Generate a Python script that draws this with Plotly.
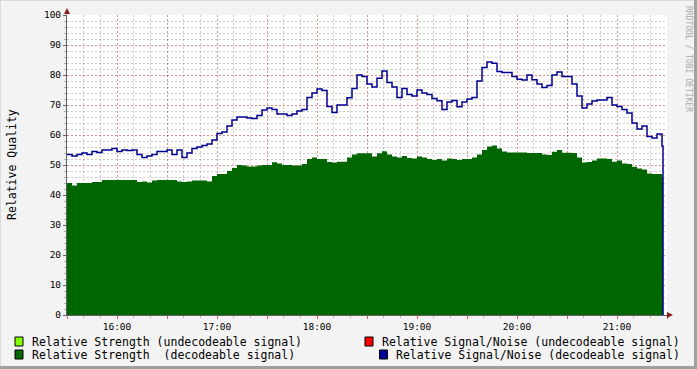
import pandas as pd
import plotly.graph_objects as go

# ---- data (3-minute steps starting 15:30) ----
start_time = "2024-01-01 15:30:00"
step_minutes = 3

strength_decodeable = [
    44, 43.2, 44, 44, 44, 44.3, 44.3, 45, 45, 45,
    45, 45, 45, 45, 44.3, 44.5, 44.2, 44.8, 45, 45,
    45, 45, 44.5, 44.3, 44.5, 44.8, 44.8, 44.8, 44.5, 46.3,
    47, 47, 48, 49, 50, 49.8, 49.5, 49.5, 49.8, 50,
    50, 50.9, 50.5, 50, 50, 49.8, 49.8, 50.3, 52, 52.5,
    52, 52, 51, 50.8, 51.1, 51.1, 52.5, 53.5, 53.9, 53.9,
    53.9, 52.8, 53.9, 54.6, 53.5, 52.8, 52.5, 53, 52.3, 52.2,
    52.8, 52.5, 52, 51.7, 52, 51.5, 52.2, 52, 51.7, 52,
    52, 52.5, 53.5, 55, 56.2, 56.5, 55.5, 54.5, 54.2, 54.2,
    54.2, 54.2, 54, 54, 54, 53.5, 53.3, 54.4, 55, 54.1,
    54.1, 54, 52.5, 50.8, 51, 51.5, 52.2, 52.2, 52, 51.1,
    51.5, 50.5, 50.3, 49.4, 48.8, 48.5, 47.2, 47, 47, 46,
]

snr_decodeable = [
    53.5, 53, 53.5, 54, 53.5, 54.5, 54.2, 55, 55, 55.5,
    54.5, 55, 54.8, 55, 53.5, 52.5, 53, 53.5, 54.5, 54.5,
    55, 53.5, 55, 52.5, 54, 55.5, 56, 56.5, 57, 58.3,
    60.5, 61, 63, 65, 66, 66, 65.7, 65.5, 66.5, 68.3,
    69, 68.5, 67, 67, 66.5, 67, 68, 68.5, 72.5, 74,
    75.3, 74.8, 69.5, 67.5, 70, 70, 72.4, 75.5, 80, 79.5,
    77, 76, 78.9, 81.3, 77.5, 76, 72.5, 75.5, 73.5, 73,
    75, 74, 73.5, 72.2, 71.4, 68.5, 71, 71.5, 69.4, 71,
    72, 72.5, 78, 82.5, 84.3, 83.9, 81.2, 80.8, 80.8, 79.5,
    78.6, 78.3, 80, 78.4, 77, 75.8, 76.5, 80, 81, 79.5,
    79.5, 77, 73, 69, 70.3, 71.3, 71.7, 71.7, 72.5, 70,
    69.5, 68.5, 67.3, 64, 62, 63, 59.5, 59, 60.3, 56.3,
]

end_time = "2024-01-01 21:27:36"

x_range = ["2024-01-01 15:30:00", "2024-01-01 21:30:00"]
y_range = [0, 100]

tick_vals = ["2024-01-01 %s" % t for t in
             ["15:30", "16:00", "16:30", "17:00", "17:30", "18:00", "18:30",
              "19:00", "19:30", "20:00", "20:30", "21:00", "21:30"]]
tick_text = ["", "16:00", "", "17:00", "", "18:00", "",
             "19:00", "", "20:00", "", "21:00", ""]
y_tick_vals = [0, 10, 20, 30, 40, 50, 60, 70, 80, 90, 100]

legend_labels = [
    "Relative Strength (undecodeable signal)",
    "Relative Signal/Noise (undecodeable signal)",
    "Relative Strength\u00a0\u00a0(decodeable signal)",
    "Relative Signal/Noise (decodeable signal)",
]
legend_colors = ["#80FF00", "#FF0000", "#006600", "#000099"]

# ---- figure ----
times = list(pd.date_range(start_time, periods=len(snr_decodeable),
                           freq="%dmin" % step_minutes))
times_ext = times + [pd.Timestamp(end_time)]

W, H = 697, 369
L, R, T, B = 67, 667, 15, 315
FONT = "DejaVu Sans Mono"


def px(xp):
    return (xp - L) / (R - L)


def py(yp):
    return (B - yp) / (B - T)


fig = go.Figure()
fig.add_trace(go.Scatter(
    x=times_ext, y=strength_decodeable + [strength_decodeable[-1]],
    mode="lines", line=dict(width=0, shape="hv", color="#006600"),
    fill="tozeroy", fillcolor="#006600", hoverinfo="skip"))
fig.add_trace(go.Scatter(
    x=times_ext, y=snr_decodeable + [0],
    mode="lines", line=dict(width=1.5, shape="hv", color="#000090"),
    hoverinfo="skip"))

grid_major = "rgba(255,0,0,0.3)"
grid_minor = "rgba(0,0,0,0.2)"

fig.update_layout(
    width=W, height=H,
    margin=dict(l=L, r=W - R, t=T, b=H - B, autoexpand=False),
    paper_bgcolor="#F3F3F3", plot_bgcolor="#FFFFFF",
    showlegend=False,
    font=dict(family=FONT, size=9.5, color="#000000"),
)
fig.update_xaxes(
    type="date", range=x_range, tickmode="array",
    tickvals=tick_vals, ticktext=tick_text,
    showgrid=True, gridcolor=grid_major, griddash="2px,2px", gridwidth=1,
    ticks="outside", ticklen=3, tickcolor="#E06060",
    minor=dict(dtick=600000, tick0="2024-01-01 15:30:00", showgrid=True,
               gridcolor=grid_minor, griddash="2px,2px", ticks="outside",
               ticklen=2, tickcolor="#B0B0B0"),
    showline=True, linecolor="#606060", linewidth=1,
    zeroline=False, fixedrange=True, automargin=False,
    tickfont=dict(family=FONT, size=9.5, color="#000000"),
)
fig.update_yaxes(
    range=y_range, tickmode="array", tickvals=y_tick_vals,
    showgrid=True, gridcolor=grid_major, griddash="2px,2px", gridwidth=1,
    ticks="outside", ticklen=3, tickcolor="#606060",
    minor=dict(dtick=2, showgrid=True, gridcolor=grid_minor,
               griddash="2px,2px", ticks="outside", ticklen=2,
               tickcolor="#B0B0B0"),
    showline=True, linecolor="#606060", linewidth=1,
    zeroline=False, fixedrange=True, automargin=False,
    tickfont=dict(family=FONT, size=9.5, color="#000000"),
)

shapes = []
# axis arrows
shapes.append(dict(type="path", xref="paper", yref="paper",
                   path="M %f %f L %f %f L %f %f Z" % (px(64), py(14), px(70), py(14), px(67), py(8)),
                   fillcolor="#8B1A1A", line=dict(width=0)))
shapes.append(dict(type="path", xref="paper", yref="paper",
                   path="M %f %f L %f %f L %f %f Z" % (px(667), py(312), px(667), py(318), px(673), py(315)),
                   fillcolor="#8B1A1A", line=dict(width=0)))
# frame
shapes.append(dict(type="line", xref="paper", yref="paper", x0=px(0), x1=px(697), y0=py(0.5), y1=py(0.5),
                   line=dict(color="#DADADA", width=1)))
shapes.append(dict(type="line", xref="paper", yref="paper", x0=px(0.5), x1=px(0.5), y0=py(0), y1=py(369),
                   line=dict(color="#DADADA", width=1)))
shapes.append(dict(type="line", xref="paper", yref="paper", x0=px(0), x1=px(697), y0=py(367.5), y1=py(367.5),
                   line=dict(color="#A0A0A0", width=3)))
shapes.append(dict(type="line", xref="paper", yref="paper", x0=px(695.5), x1=px(695.5), y0=py(0), y1=py(369),
                   line=dict(color="#A0A0A0", width=3)))

annotations = []
legend_pos = [(15, 337, 30), (365, 337, 380), (15, 350, 30), (379.5, 350, 394)]
for (bx, by, tx), lab, col in zip(legend_pos, legend_labels, legend_colors):
    shapes.append(dict(type="rect", xref="paper", yref="paper",
                       x0=px(bx), x1=px(bx + 8), y0=py(by), y1=py(by + 9),
                       fillcolor=col, line=dict(color="#000000", width=1)))
    annotations.append(dict(xref="paper", yref="paper", x=px(tx), y=py(by + 4.5),
                            text=lab, showarrow=False, xanchor="left", yanchor="middle",
                            font=dict(family=FONT, size=11.5, color="#000000")))

annotations.append(dict(xref="paper", yref="paper", x=px(12), y=py(165),
                        text="Relative Quality", showarrow=False, textangle=-90,
                        xanchor="center", yanchor="middle",
                        font=dict(family=FONT, size=11.5, color="#000000")))
annotations.append(dict(xref="paper", yref="paper", x=px(688), y=py(59),
                        text="RRDTOOL / TOBI OETIKER", showarrow=False, textangle=90,
                        xanchor="center", yanchor="middle",
                        font=dict(family=FONT, size=8, color="#A8A8A8")))

fig.update_layout(shapes=shapes, annotations=annotations)
fig.write_html("out.html", config={"displayModeBar": False},
               post_script="document.body.style.margin='0';document.body.style.background='#F3F3F3';")
